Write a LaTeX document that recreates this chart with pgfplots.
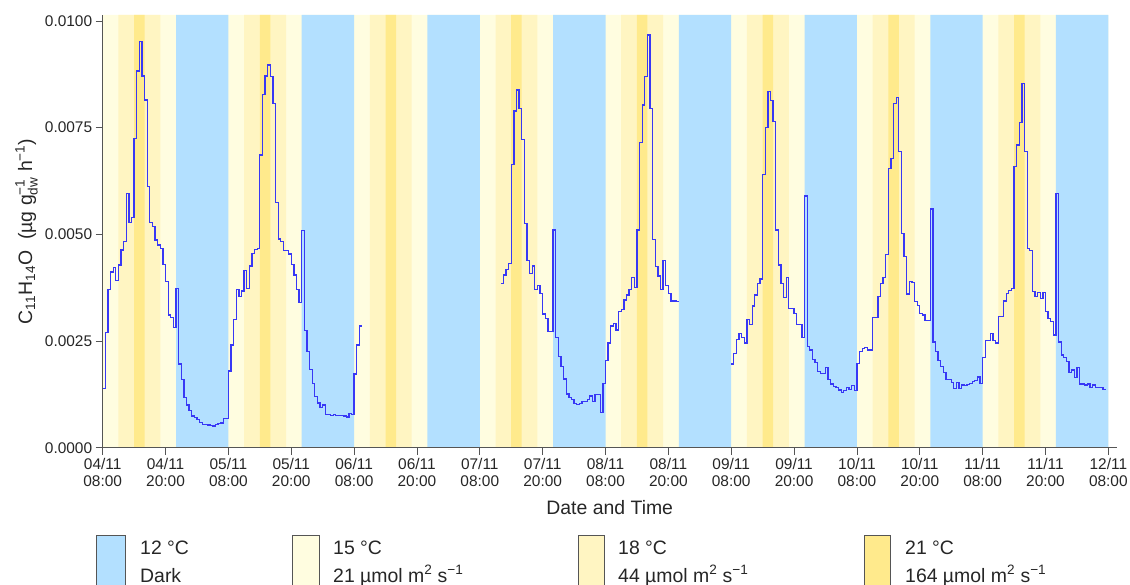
\documentclass[border=0pt]{standalone}
\usepackage{pgfplots}
\pgfplotsset{compat=1.18}
\usepackage{amsmath}
\usepackage{fontspec}
\setmainfont{Liberation Sans}
\definecolor{darkc}{HTML}{B3E0FF}
\definecolor{t15}{HTML}{FFFDE0}
\definecolor{t18}{HTML}{FFF5C2}
\definecolor{t21}{HTML}{FFEA8C}
\definecolor{lineb}{HTML}{3838F5}
\definecolor{txt}{HTML}{262626}
\definecolor{axc}{HTML}{555555}
\newcommand{\labfont}{\fontsize{19.5}{22}\selectfont}
\newcommand{\tickfont}{\fontsize{15.5}{17}\selectfont}
\begin{document}
\begin{tikzpicture}[x=1bp,y=1bp]
\path[use as bounding box] (0,0) rectangle (1130,585);
\begin{axis}[
  at={(102.7bp,137.3bp)}, anchor=south west,
  scale only axis, width=1014bp, height=432.7bp,
  xmin=0, xmax=193.6, ymin=0, ymax=101.4,
  axis x line*=bottom, axis y line*=left,
  axis line style={axc, line width=0.8bp, -},
  every tick/.style={axc, line width=0.8bp},
  tick align=outside, major tick length=7bp,
  axis on top,
  xtick={0,12,...,192},
  xticklabels={{04/11\\08:00},{04/11\\20:00},{05/11\\08:00},{05/11\\20:00},{06/11\\08:00},{06/11\\20:00},{07/11\\08:00},{07/11\\20:00},{08/11\\08:00},{08/11\\20:00},{09/11\\08:00},{09/11\\20:00},{10/11\\08:00},{10/11\\20:00},{11/11\\08:00},{11/11\\20:00},{12/11\\08:00}},
  xticklabel style={align=center, font=\tickfont, text=txt},
  ytick={0,25,50,75,100},
  yticklabels={0.0000,0.0025,0.0050,0.0075,0.0100},
  yticklabel style={font=\tickfont, text=txt},
  xlabel={Date and Time},
  xlabel style={font=\labfont, text=txt, at={(axis description cs:0.5,-0.1555)}, anchor=base},
  ylabel={C$_{\text{11}}$H$_{\text{14}}$O\ \ (µg g$_{\text{dw}}^{\text{−1}}$ h$^{\text{−1}}$)},
  ylabel style={font=\labfont, text=txt, at={(axis description cs:-0.0697,0.5)}, anchor=base},
]
% background bands
\addplot[draw=none, fill=t15, const plot] coordinates {(0,101.4) (192,0)} \closedcycle;
\addplot[draw=none, fill=t18, const plot] coordinates {(3,101.4)(11,0)(27,101.4)(35,0)(51,101.4)(59,0)(75,101.4)(83,0)(99,101.4)(107,0)(123,101.4)(131,0)(147,101.4)(155,0)(171,101.4)(179,0)} \closedcycle;
\addplot[draw=none, fill=t21, const plot] coordinates {(6,101.4)(8,0)(30,101.4)(32,0)(54,101.4)(56,0)(78,101.4)(80,0)(102,101.4)(104,0)(126,101.4)(128,0)(150,101.4)(152,0)(174,101.4)(176,0)} \closedcycle;
\addplot[draw=none, fill=darkc, const plot] coordinates {(14,101.4)(24,0)(38,101.4)(48,0)(62,101.4)(72,0)(86,101.4)(96,0)(110,101.4)(120,0)(134,101.4)(144,0)(158,101.4)(168,0)(182,101.4)(192,0)} \closedcycle;
% data
\addplot[const plot, lineb, line width=1.3bp] coordinates {
(0,13.8)(0.5,27.0)(1,37.1)(1.5,41.2)(2,42.2)(2.5,39.1)(3,42.8)(3.5,46.3)(4,48.3)(4.5,59.6)(5,52.7)(5.5,54.0)(6,72.5)(6.5,88.3)(7,95.2)(7.5,87.1)(8,81.5)(8.5,61.2)(9,52.7)(9.5,51.8)(10,48.7)(10.5,47.5)(11,46.7)(11.5,43.0)(12,38.9)(12.5,31.1)(13,30.5)(13.5,28.2)(14,37.3)(14.5,19.6)(15,15.9)(15.5,11.8)(16,10.0)(16.5,8.7)(17,7.4)(17.5,7.0)(18,6.6)(18.5,5.9)(19,5.5)(19.5,5.4)(20,5.3)(20.5,5.2)(21,5.1)(21.5,5.5)(22,5.6)(22.5,5.8)(23,6.9)(23.5,6.9)(24,18.0)(24.5,24.1)(25,30.1)(25.5,37.1)(26,35.5)(26.5,36.7)(27,41.5)(27.5,37.3)(28,42.6)(28.5,45.5)(29,46.5)(29.5,46.7)(30,68.6)(30.5,82.8)(31,87.1)(31.5,89.7)(32,87.0)(32.5,80.7)(33,57.4)(33.5,48.9)(34,48.3)(34.5,46.2)(35,46.2)(35.5,45.4)(36,43.0)(36.5,40.5)(37,37.0)(37.5,34.0)(38,50.9)(38.5,27.4)(39,22.5)(39.5,18.4)(40,15.1)(40.5,12.0)(41,10.5)(41.5,9.5)(42,10.0)(42.5,7.7)(43,7.7)(43.5,7.6)(44,7.7)(44.5,7.5)(45,7.6)(45.5,7.6)(46,7.4)(46.5,7.2)(47,8.0)(47.5,7.8)(48,17.3)(48.5,24.1)(49,28.5)(49.5,28.5)};
\addplot[const plot, lineb, line width=1.3bp] coordinates {
(76,38.5)(76.5,40.5)(77,41.8)(77.5,43.2)(78,66.3)(78.5,78.9)(79,83.8)(79.5,79.5)(80,72.3)(80.5,52.6)(81,43.8)(81.5,40.9)(82,42.6)(82.5,37.0)(83,38.0)(83.5,36.2)(84,31.3)(84.5,30.3)(85,27.3)(85.5,27.3)(86,51.0)(86.5,25.9)(87,21.3)(87.5,19.0)(88,16.1)(88.5,12.6)(89,11.8)(89.5,11.3)(90,10.4)(90.5,10.2)(91,10.4)(91.5,10.9)(92,10.8)(92.5,11.3)(93,12.1)(93.5,10.9)(94,12.5)(94.5,12.5)(95,8.2)(95.5,15.1)(96,20.4)(96.5,24.5)(97,28.5)(97.5,29.1)(98,27.6)(98.5,31.9)(99,32.4)(99.5,34.6)(100,35.8)(100.5,37.1)(101,39.9)(101.5,37.6)(102,51.0)(102.5,71.5)(103,80.3)(103.5,87.0)(104,96.7)(104.5,79.5)(105,48.8)(105.5,42.4)(106,40.2)(106.5,37.0)(107,43.8)(107.5,38.0)(108,36.2)(108.5,34.4)(109,34.4)(109.5,34.2)(110,34.2)};
\addplot[const plot, lineb, line width=1.3bp] coordinates {
(120,19.6)(120.5,22.1)(121,25.4)(121.5,26.8)(122,25.9)(122.5,24.5)(123,30.1)(123.5,28.8)(124,33.2)(124.5,35.8)(125,38.4)(125.5,39.5)(126,64.1)(126.5,75.0)(127,83.4)(127.5,81.3)(128,76.4)(128.5,51.0)(129,42.8)(129.5,38.4)(130,35.2)(130.5,39.9)(131,32.7)(131.5,32.7)(132,31.5)(132.5,28.8)(133,28.8)(133.5,25.9)(134,59.0)(134.5,23.7)(135,22.9)(135.5,20.7)(136,19.9)(136.5,17.8)(137,17.4)(137.5,17.4)(138,18.8)(138.5,15.9)(139,14.9)(139.5,14.3)(140,14.1)(140.5,13.5)(141,12.9)(141.5,13.4)(142,14.1)(142.5,13.7)(143,14.5)(143.5,13.4)
(144,19.8)(144.5,22.5)(145,23.3)(145.5,23.5)(146,22.9)(146.5,22.9)(147,30.5)(147.5,30.5)(148,35.4)(148.5,38.4)(149,39.9)(149.5,45.2)(150,65.5)(150.5,67.8)(151,80.7)(151.5,82.0)(152,69.4)(152.5,50.2)(153,44.8)(153.5,36.0)(154,38.9)(154.5,38.7)(155,34.2)(155.5,33.4)(156,31.5)(156.5,31.1)(157,29.8)(157.5,29.8)(158,55.9)(158.5,24.8)(159,22.5)(159.5,20.5)(160,19.0)(160.5,17.6)(161,16.0)(161.5,15.9)(162,15.2)(162.5,13.9)(163,15.2)(163.5,13.9)(164,14.7)(164.5,14.5)(165,14.8)(165.5,15.1)(166,15.5)(166.5,15.7)(167,16.6)(167.5,15.1)
(168,21.2)(168.5,25.2)(169,25.2)(169.5,26.8)(170,25.1)(170.5,24.5)(171,30.7)(171.5,30.7)(172,34.4)(172.5,36.2)(173,36.8)(173.5,37.3)(174,65.9)(174.5,70.9)(175,76.2)(175.5,85.4)(176,69.4)(176.5,46.7)(177,46.2)(177.5,36.6)(178,35.5)(178.5,36.3)(179,35.0)(179.5,36.3)(180,31.9)(180.5,30.3)(181,29.5)(181.5,26.4)(182,59.5)(182.5,24.8)(183,21.7)(183.5,21.2)(184,20.2)(184.5,17.6)(185,18.2)(185.5,16.5)(186,18.8)(186.5,14.9)(187,14.9)(187.5,14.7)(188,14.9)(188.5,14.1)(189,14.7)(189.5,14.1)(190,14.1)(190.5,14.1)(191,13.7)(191.5,13.7)};
\end{axis}
% legend
\draw[axc, line width=0.8bp, fill=darkc] (96,50) rectangle (125,-20);
\draw[axc, line width=0.8bp, fill=t15] (292,50) rectangle (319,-20);
\draw[axc, line width=0.8bp, fill=t18] (578,50) rectangle (604,-20);
\draw[axc, line width=0.8bp, fill=t21] (864,50) rectangle (890,-20);
\begin{scope}[every node/.style={anchor=base west, inner sep=0pt, font=\labfont, text=txt}]
\node at (140,30.3) {12 °C};
\node at (140,2.7) {Dark};
\node at (333,30.3) {15 °C};
\node at (333,2.7) {21 µmol m\textsuperscript{2} s\textsuperscript{−1}};
\node at (618,30.3) {18 °C};
\node at (618,2.7) {44 µmol m\textsuperscript{2} s\textsuperscript{−1}};
\node at (905,30.3) {21 °C};
\node at (905,2.7) {164 µmol m\textsuperscript{2} s\textsuperscript{−1}};
\end{scope}
\end{tikzpicture}
\end{document}
